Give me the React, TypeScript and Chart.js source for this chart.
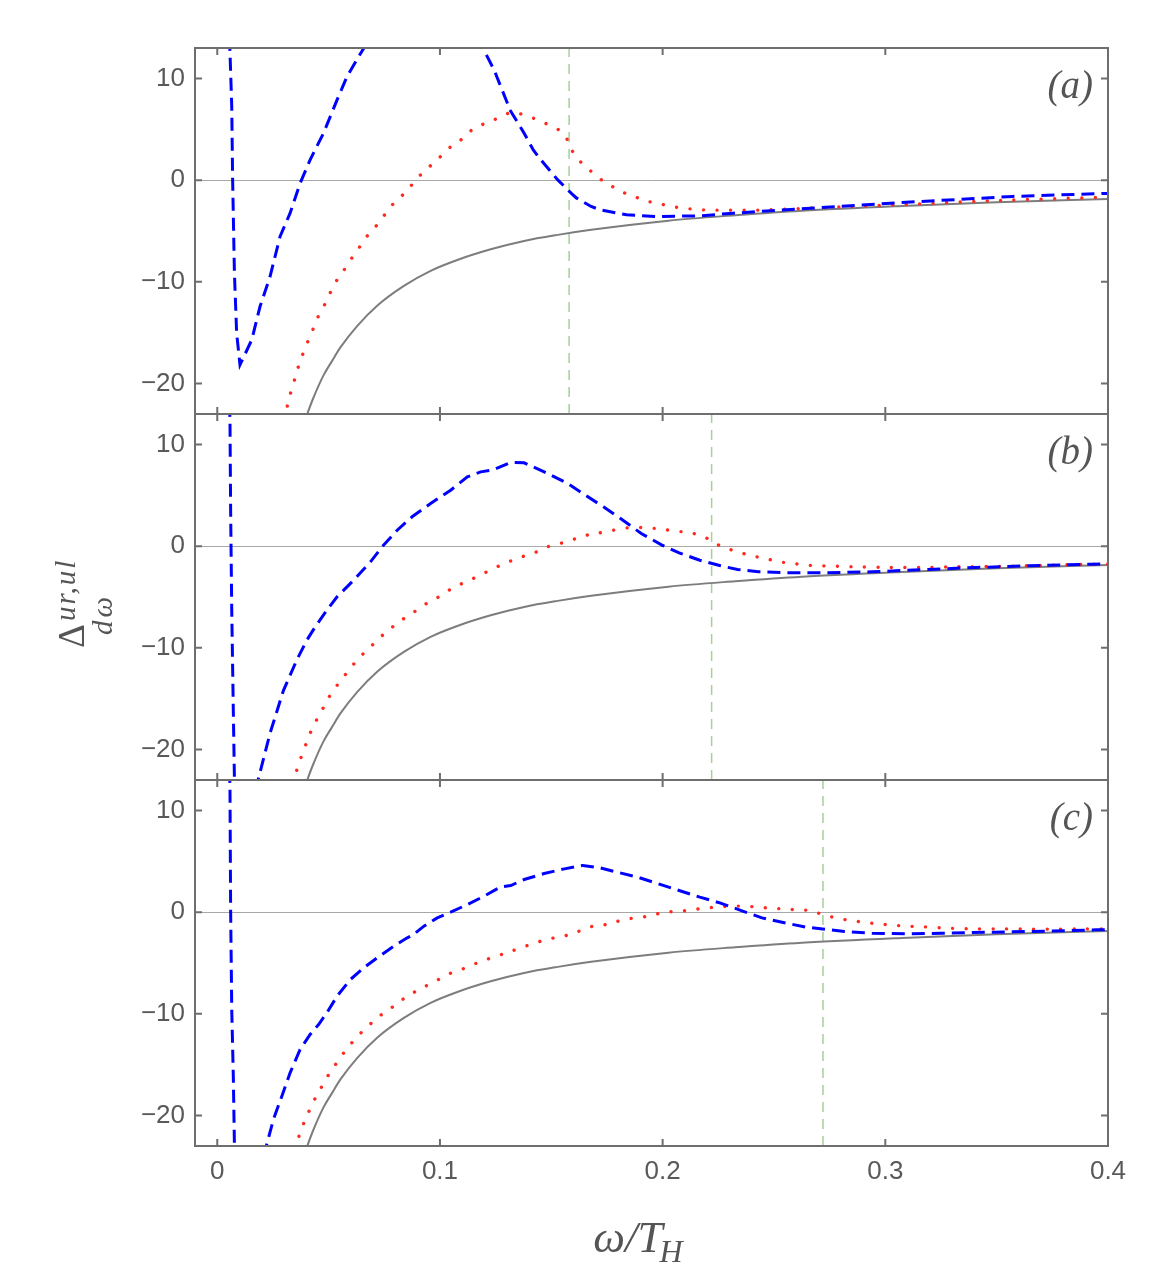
import { useEffect, useRef } from "react";
import { Chart, registerables } from "chart.js";

Chart.register(...registerables);

const W = 1168;
const H = 1268;

// axis ranges and ticks
const X_MIN = -0.01;
const X_MAX = 0.4;
const Y_MIN = -23;
const Y_MAX = 13;
const X_TICKS = [0, 0.1, 0.2, 0.3, 0.4];
const X_TICK_LABELS = ["0", "0.1", "0.2", "0.3", "0.4"];
const Y_TICKS = [-20, -10, 0, 10];
const Y_TICK_LABELS = ["\u221220", "\u221210", "0", "10"];
const PANEL_LABELS = ["(a)", "(b)", "(c)"];
const MARKER_X = [0.158, 0.222, 0.272];

// solid gray reference curve (same in all panels)
const GRAY_X = [0.0398, 0.0405, 0.043, 0.0477, 0.0515, 0.0553, 0.0628, 0.0718, 0.0838, 0.0958, 0.1078, 0.1228, 0.1378, 0.1529, 0.1679, 0.2026, 0.2326, 0.2625, 0.3074, 0.35, 0.4];
const GRAY_Y = [-23.4, -22.95, -21.5, -19.2, -17.8, -16.45, -14.35, -12.35, -10.4, -8.92, -7.85, -6.8, -5.98, -5.38, -4.88, -3.98, -3.45, -3.0, -2.53, -2.17, -1.86];

// panel (a)
const BLUE_A_X = [0.0055, 0.0057, 0.0065, 0.0069, 0.0077, 0.0087, 0.0102, 0.0155, 0.0192, 0.0237, 0.0282, 0.0327, 0.0372, 0.0417, 0.0477, 0.0538, 0.0583, 0.0635, 0.0658, 0.068, 0.09, 0.117, 0.1195, 0.1243, 0.1303, 0.1314, 0.1378, 0.1419, 0.1453, 0.1529, 0.1589, 0.1614, 0.1679, 0.1719, 0.1838, 0.1973, 0.2168, 0.2317, 0.2617, 0.3075, 0.3571, 0.4];
const BLUE_A_Y = [14, 12.66, 7.25, 0.03, -9.15, -15.05, -18.16, -15.7, -12.43, -9.48, -5.54, -3.25, -0.3, 2.0, 4.62, 7.9, 10.2, 12.16, 12.98, 13.8, null, 14.1, 12.9, 10.85, 7.57, 6.92, 4.62, 2.98, 2.0, 0.03, -1.28, -1.77, -2.59, -2.92, -3.41, -3.57, -3.51, -3.25, -2.82, -2.2, -1.6, -1.3];
const RED_A_X = [0.03, 0.0312, 0.0327, 0.0345, 0.0362, 0.0383, 0.0405, 0.0429, 0.0452, 0.0482, 0.0508, 0.0538, 0.0572, 0.0607, 0.0643, 0.0677, 0.0718, 0.0755, 0.0793, 0.0838, 0.088, 0.092, 0.0965, 0.1011, 0.1053, 0.1105, 0.1149, 0.1206, 0.1261, 0.1318, 0.1378, 0.1438, 0.1494, 0.1548, 0.1581, 0.1589, 0.1626, 0.1671, 0.1714, 0.1766, 0.182, 0.1879, 0.1937, 0.1999, 0.206, 0.212, 0.2183, 0.2243, 0.2302, 0.243, 0.2557, 0.28, 0.312, 0.35, 0.4];
const RED_A_Y = [-23.5, -22.43, -21.11, -19.8, -18.49, -17.18, -15.97, -14.72, -13.48, -12.26, -11.05, -9.8, -8.75, -7.57, -6.46, -5.38, -4.39, -3.31, -2.26, -1.34, -0.3, 0.69, 1.57, 2.49, 3.38, 4.13, 5.05, 5.61, 6.1, 6.66, 6.43, 5.93, 5.38, 4.75, 3.64, 3.05, 1.93, 1.02, 0.2, -0.52, -1.18, -1.67, -2.1, -2.39, -2.66, -2.82, -2.92, -2.95, -2.95, -2.95, -2.85, -2.62, -2.36, -2.0, -1.67];

// panel (b)
const BLUE_B_X = [0.0054, 0.0057, 0.006, 0.0065, 0.0072, 0.0077, 0.0078, 0.012, 0.0172, 0.0185, 0.0237, 0.0297, 0.0357, 0.0402, 0.044, 0.0492, 0.0538, 0.0613, 0.0688, 0.074, 0.0808, 0.0875, 0.0958, 0.1048, 0.1123, 0.1183, 0.1236, 0.1318, 0.1378, 0.1468, 0.1574, 0.1641, 0.1734, 0.1811, 0.1904, 0.1997, 0.2074, 0.2167, 0.226, 0.2337, 0.243, 0.2554, 0.274, 0.2941, 0.3173, 0.3406, 0.3638, 0.3932, 0.4];
const BLUE_B_Y = [14, 12.56, 3.54, -6.3, -16.1, -22.85, -24, null, -24, -22.85, -18.4, -14.2, -11.2, -9.25, -7.93, -6.3, -4.98, -3.34, -1.54, -0.07, 1.57, 2.89, 4.2, 5.5, 6.82, 7.31, 7.48, 8.23, 8.2, 7.31, 6.16, 5.18, 3.87, 2.72, 1.25, 0.1, -0.66, -1.38, -1.93, -2.3, -2.52, -2.62, -2.62, -2.52, -2.3, -2.1, -1.93, -1.77, -1.74];
const RED_B_X = [0.0338, 0.035, 0.0369, 0.039, 0.041, 0.0437, 0.0467, 0.0495, 0.053, 0.0568, 0.0605, 0.0646, 0.0691, 0.0734, 0.0782, 0.0832, 0.0883, 0.0935, 0.0988, 0.1041, 0.1093, 0.115, 0.1207, 0.1263, 0.132, 0.1377, 0.1435, 0.1491, 0.1551, 0.1611, 0.1671, 0.1718, 0.178, 0.1842, 0.1904, 0.1966, 0.2028, 0.209, 0.2152, 0.2201, 0.2221, 0.2276, 0.2337, 0.2399, 0.2461, 0.2523, 0.2585, 0.2647, 0.2709, 0.2864, 0.3019, 0.3173, 0.3328, 0.356, 0.3746, 0.3932, 0.4];
const RED_B_Y = [-23.3, -22.52, -21.21, -20.0, -18.75, -17.44, -16.3, -15.08, -13.93, -12.85, -11.8, -10.79, -9.84, -8.92, -8.03, -7.21, -6.49, -5.7, -5.08, -4.33, -3.74, -3.18, -2.56, -1.97, -1.44, -0.98, -0.56, 0, 0.33, 0.75, 1.15, 1.31, 1.57, 1.8, 1.84, 1.74, 1.57, 1.41, 1.18, 0.75, 0.43, -0.13, -0.56, -0.95, -1.21, -1.54, -1.7, -1.87, -1.93, -2.03, -2.1, -2.1, -2.03, -1.97, -1.87, -1.77, -1.75];

// panel (c)
const BLUE_C_X = [0.0054, 0.0057, 0.006, 0.0065, 0.0072, 0.0077, 0.0078, 0.014, 0.0208, 0.0222, 0.0252, 0.029, 0.0327, 0.0372, 0.0417, 0.0455, 0.0492, 0.0538, 0.0598, 0.0658, 0.0718, 0.0793, 0.0853, 0.0875, 0.0928, 0.0988, 0.1048, 0.1123, 0.1198, 0.1273, 0.1318, 0.1378, 0.1468, 0.1559, 0.1641, 0.1718, 0.1796, 0.1889, 0.1981, 0.2074, 0.2167, 0.226, 0.2353, 0.2446, 0.2554, 0.2647, 0.2709, 0.2817, 0.2941, 0.3096, 0.3251, 0.3483, 0.3715, 0.3947, 0.4];
const BLUE_C_Y = [14, 12.56, 0.26, -9.57, -16.1, -22.85, -24, null, -24, -22.85, -20.4, -18.1, -15.8, -13.5, -12.03, -11.05, -9.9, -8.26, -6.62, -5.48, -4.49, -3.34, -2.52, -2.3, -1.38, -0.56, 0, 0.75, 1.57, 2.49, 2.62, 3.21, 3.8, 4.26, 4.6, 4.36, 3.93, 3.44, 2.79, 2.13, 1.48, 0.89, 0.16, -0.56, -1.08, -1.48, -1.64, -1.9, -2.07, -2.13, -2.07, -1.97, -1.87, -1.74, -1.72];
const RED_C_X = [0.0348, 0.036, 0.038, 0.0402, 0.0429, 0.0458, 0.0488, 0.0523, 0.0557, 0.0595, 0.0635, 0.068, 0.0728, 0.0778, 0.0827, 0.088, 0.0935, 0.0988, 0.1045, 0.1104, 0.1161, 0.1218, 0.1278, 0.1333, 0.1393, 0.1453, 0.1514, 0.1574, 0.1634, 0.1687, 0.1749, 0.1811, 0.1873, 0.1927, 0.1989, 0.2051, 0.2113, 0.2175, 0.2237, 0.2299, 0.2358, 0.242, 0.2481, 0.2543, 0.2605, 0.2667, 0.272, 0.2779, 0.2841, 0.2903, 0.2964, 0.3026, 0.3088, 0.315, 0.3274, 0.3398, 0.3522, 0.3646, 0.377, 0.3894, 0.4];
const RED_C_Y = [-23.3, -22.5, -21.2, -20.07, -18.75, -17.6, -16.4, -15.25, -14.16, -13.08, -12.1, -11.15, -10.23, -9.48, -8.66, -7.93, -7.28, -6.69, -6.03, -5.57, -5.05, -4.59, -4.16, -3.74, -3.28, -2.85, -2.52, -2.26, -1.8, -1.38, -1.21, -0.82, -0.56, -0.43, -0.1, 0.07, 0.16, 0.36, 0.49, 0.59, 0.59, 0.52, 0.39, 0.33, 0.23, 0.16, -0.26, -0.56, -0.82, -0.98, -1.15, -1.25, -1.38, -1.41, -1.57, -1.64, -1.64, -1.67, -1.67, -1.64, -1.67];

const BLUE_X = [BLUE_A_X, BLUE_B_X, BLUE_C_X];
const BLUE_Y = [BLUE_A_Y, BLUE_B_Y, BLUE_C_Y];
const RED_X = [RED_A_X, RED_B_X, RED_C_X];
const RED_Y = [RED_A_Y, RED_B_Y, RED_C_Y];

// panel frame geometry (page pixels)
const FRAME_LEFT = 195;
const FRAME_RIGHT = 1108;
const FRAME_TOP = [48, 414, 780];
const FRAME_BOTTOM = [414, 780, 1146];
const X_AXIS_H = 60;

const FRAME_COLOR = "#6e6e6e";
const TICK_TEXT = "#595959";

const toPts = (xs: number[], ys: (number | null)[]) => xs.map((x, i) => ({ x, y: ys[i] }));

const framePlugin = {
  id: "panelFrame",
  afterDraw(chart: any, _args: any, opts: any) {
    const { ctx, chartArea } = chart;
    const { left, right, top, bottom } = chartArea;
    const xs = chart.scales.x;
    const ys = chart.scales.y;
    ctx.save();
    ctx.strokeStyle = FRAME_COLOR;
    ctx.lineWidth = 2;
    ctx.strokeRect(left, top, right - left, bottom - top);
    ctx.beginPath();
    for (const v of X_TICKS) {
      const px = xs.getPixelForValue(v);
      ctx.moveTo(px, bottom);
      ctx.lineTo(px, bottom - 7);
      ctx.moveTo(px, top);
      ctx.lineTo(px, top + 7);
    }
    for (const v of Y_TICKS) {
      const py = ys.getPixelForValue(v);
      ctx.moveTo(left, py);
      ctx.lineTo(left + 7, py);
      ctx.moveTo(right, py);
      ctx.lineTo(right - 7, py);
    }
    ctx.stroke();
    ctx.fillStyle = "#555555";
    ctx.font = "italic 39px 'Liberation Serif'";
    ctx.textAlign = "right";
    ctx.textBaseline = "middle";
    ctx.fillText(opts.label, right - 15, top + 40);
    ctx.restore();
  },
};

const titlePlugin = {
  id: "axisTitles",
  afterDraw(chart: any) {
    const { ctx, chartArea } = chart;
    ctx.save();
    ctx.fillStyle = "#555555";
    // x title: ω/T_H
    const cx = (chartArea.left + chartArea.right) / 2 - 12;
    ctx.font = "italic 45px 'Liberation Serif'";
    const main = "\u03c9/T";
    const mw = ctx.measureText(main).width;
    ctx.font = "italic 32px 'Liberation Serif'";
    const sw = ctx.measureText("H").width;
    const x0 = cx - (mw + sw) / 2;
    ctx.textBaseline = "alphabetic";
    ctx.textAlign = "left";
    ctx.font = "italic 45px 'Liberation Serif'";
    ctx.fillText(main, x0, 1252);
    ctx.font = "italic 32px 'Liberation Serif'";
    ctx.fillText("H", x0 + mw - 3, 1262);
    // y title: Δ^{ur,ul}_{dω}
    ctx.translate(84, 648);
    ctx.rotate(-Math.PI / 2);
    ctx.font = "37px 'Liberation Serif'";
    ctx.fillText("\u0394", 0, 0);
    ctx.font = "italic 29px 'Liberation Serif'";
    (ctx as any).letterSpacing = "2px";
    ctx.fillText("ur,ul", 27, -9);
    (ctx as any).letterSpacing = "3px";
    ctx.fillText("d\u03c9", 13, 28);
    ctx.restore();
  },
};

function buildConfig(idx: number): any {
  const isBottom = idx === 2;
  const datasets = [
    {
      label: "blue",
      data: toPts(BLUE_X[idx], BLUE_Y[idx]),
      borderColor: "#0000ff",
      borderWidth: 3,
      borderDash: [13, 7],
      pointRadius: 0,
      tension: 0,
      clip: 0,
    },
    {
      label: "red",
      data: toPts(RED_X[idx], RED_Y[idx]),
      borderColor: "#ff2a1f",
      borderWidth: 3.4,
      borderDash: [0.01, 13.5],
      borderCapStyle: "round",
      pointRadius: 0,
      tension: 0.2,
      clip: 0,
    },
    {
      label: "gray",
      data: toPts(GRAY_X, GRAY_Y),
      borderColor: "#7d7d7d",
      borderWidth: 2,
      pointRadius: 0,
      cubicInterpolationMode: "monotone",
      clip: 0,
    },
    {
      label: "marker",
      data: [
        { x: MARKER_X[idx], y: Y_MIN },
        { x: MARKER_X[idx], y: Y_MAX },
      ],
      borderColor: "#a6cf9a",
      borderWidth: 1.5,
      borderDash: [10, 7],
      pointRadius: 0,
      clip: 0,
    },
  ];
  const plugins: any[] = [framePlugin];
  if (isBottom) plugins.push(titlePlugin);
  return {
    type: "line",
    data: { datasets },
    plugins,
    options: {
      animation: false,
      responsive: false,
      maintainAspectRatio: false,
      events: [],
      layout: {
        padding: {
          left: 0,
          right: W - FRAME_RIGHT,
          top: FRAME_TOP[idx],
          bottom: isBottom ? H - FRAME_BOTTOM[idx] - X_AXIS_H : H - FRAME_BOTTOM[idx],
        },
      },
      plugins: {
        legend: { display: false },
        tooltip: { enabled: false },
        panelFrame: { label: PANEL_LABELS[idx] },
      },
      scales: {
        x: {
          type: "linear",
          min: X_MIN,
          max: X_MAX,
          display: isBottom,
          afterBuildTicks: (s: any) => {
            s.ticks = X_TICKS.map((v) => ({ value: v }));
          },
          afterFit: (s: any) => {
            s.height = isBottom ? X_AXIS_H : 0;
          },
          grid: { display: false, drawTicks: false },
          border: { display: false },
          ticks: {
            autoSkip: false,
            maxRotation: 0,
            padding: 10,
            color: TICK_TEXT,
            font: { family: "'Liberation Sans'", size: 26 },
            callback: (v: number) => {
              const i = X_TICKS.indexOf(v);
              return i >= 0 ? X_TICK_LABELS[i] : "";
            },
          },
        },
        y: {
          type: "linear",
          min: Y_MIN,
          max: Y_MAX,
          afterBuildTicks: (s: any) => {
            s.ticks = Y_TICKS.map((v) => ({ value: v }));
          },
          afterFit: (s: any) => {
            s.width = FRAME_LEFT;
          },
          grid: {
            drawTicks: false,
            lineWidth: 1,
            color: (c: any) => (c.tick && c.tick.value === 0 ? "#a8a8a8" : "rgba(0,0,0,0)"),
          },
          border: { display: false },
          ticks: {
            autoSkip: false,
            padding: 10,
            color: TICK_TEXT,
            font: { family: "'Liberation Sans'", size: 26 },
            callback: (v: number) => {
              const i = Y_TICKS.indexOf(v);
              return i >= 0 ? Y_TICK_LABELS[i] : "";
            },
          },
        },
      },
    },
  };
}

export default function App() {
  const r0 = useRef<HTMLCanvasElement>(null);
  const r1 = useRef<HTMLCanvasElement>(null);
  const r2 = useRef<HTMLCanvasElement>(null);
  const refs = [r0, r1, r2];

  useEffect(() => {
    const charts = refs.map((r, i) => new Chart(r.current as HTMLCanvasElement, buildConfig(i)));
    return () => charts.forEach((c) => c.destroy());
  }, []);

  return (
    <div style={{ position: "absolute", left: 0, top: 0, width: W, height: H, background: "#ffffff" }}>
      {refs.map((r, i) => (
        <canvas
          key={i}
          ref={r}
          width={W}
          height={H}
          style={{ position: "absolute", left: 0, top: 0, width: W, height: H, pointerEvents: "none" }}
        />
      ))}
    </div>
  );
}
